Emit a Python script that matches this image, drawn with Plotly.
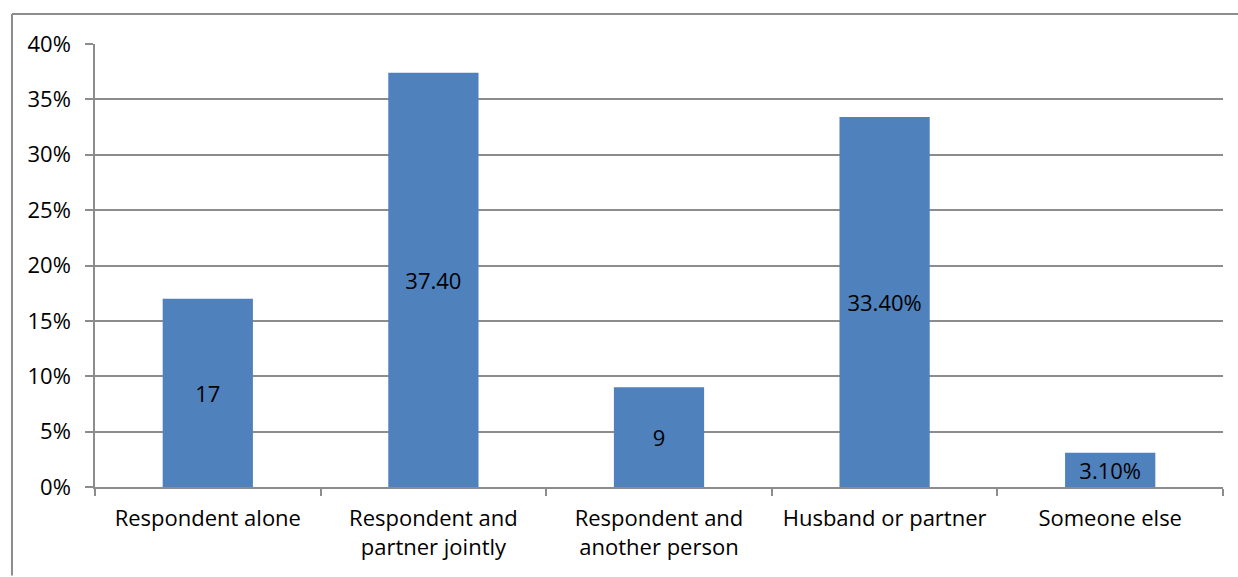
import plotly.graph_objects as go

categories = ["Respondent alone", "Respondent and<br>partner jointly", "Respondent and<br>another person",
              "Husband or partner", "Someone else"]
values = [17, 37.4, 9, 33.4, 3.1]
labels = ["17", "37.40", "9", "33.40%", "3.10%"]
y_ticks = [0, 5, 10, 15, 20, 25, 30, 35, 40]
y_ticktext = [f"{v}%" for v in y_ticks]

FONT = "Open Sans, Liberation Sans, sans-serif"
GRID = "#8c8c8c"
FS = 22

fig = go.Figure(go.Bar(
    x=categories, y=values, text=labels,
    textposition="inside", insidetextanchor="middle", constraintext="none",
    textfont=dict(size=FS, color="black", family=FONT),
    marker=dict(color="#4F81BD", line=dict(width=0)),
    hoverinfo="skip",
))

fig.update_layout(
    width=1238, height=577,
    margin=dict(l=95, r=15, t=44, b=90),
    paper_bgcolor="white", plot_bgcolor="white",
    bargap=0.6, showlegend=False,
    font=dict(family=FONT, size=FS, color="black"),
    xaxis=dict(showline=True, linecolor=GRID, linewidth=1.5, ticks="outside", tickson="boundaries",
               ticklen=7, tickcolor=GRID, tickwidth=1.5, tickfont=dict(size=FS, color="black"),
               showgrid=False, ticklabelstandoff=11),
    yaxis=dict(range=[0, 40], tickvals=y_ticks, ticktext=y_ticktext, showline=True, linecolor=GRID,
               linewidth=1.5, ticks="outside", ticklen=8, tickcolor=GRID, tickwidth=1.5, showgrid=True,
               gridcolor=GRID, gridwidth=1.5, zeroline=False, tickfont=dict(size=FS, color="black"),
               ticklabelstandoff=10),
    shapes=[
        dict(type="line", xref="paper", yref="paper", x0=-0.0736, x1=1.0133, y0=1.0677, y1=1.0677,
             line=dict(color=GRID, width=2), layer="below"),
        dict(type="line", xref="paper", yref="paper", x0=-0.0736, x1=-0.0736, y0=-0.2, y1=1.0677,
             line=dict(color=GRID, width=2), layer="below"),
    ],
)

fig.write_html("out.html", config={"displayModeBar": False},
               post_script="document.body.style.margin='0';document.body.style.overflow='hidden';")
